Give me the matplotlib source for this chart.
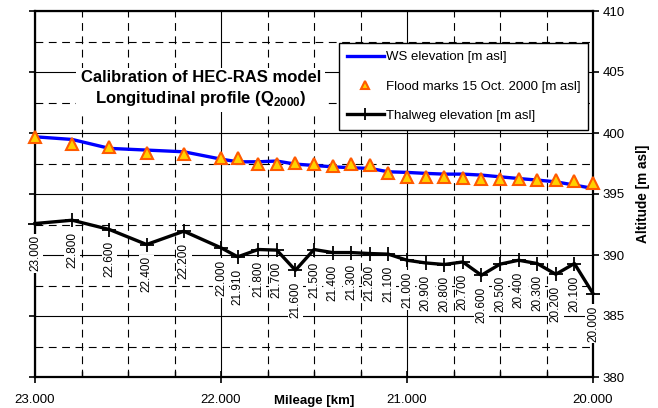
import matplotlib
matplotlib.use("Agg")
import matplotlib.pyplot as plt
from matplotlib.ticker import MultipleLocator, FixedLocator, FuncFormatter

plt.rcParams['font.family'] = ['Liberation Sans', 'DejaVu Sans']
plt.rcParams['mathtext.fontset'] = 'custom'
plt.rcParams['mathtext.rm'] = 'Liberation Sans'
plt.rcParams['mathtext.bf'] = 'Liberation Sans:bold'

stations = [23.0, 22.8, 22.6, 22.4, 22.2, 22.0, 21.91, 21.8, 21.7, 21.6, 21.5,
            21.4, 21.3, 21.2, 21.1, 21.0, 20.9, 20.8, 20.7, 20.6, 20.5, 20.4,
            20.3, 20.2, 20.1, 20.0]
station_labels = ["23.000", "22.800", "22.600", "22.400", "22.200", "22.000",
                  "21.910", "21.800", "21.700", "21.600", "21.500", "21.400",
                  "21.300", "21.200", "21.100", "21.000", "20.900", "20.800",
                  "20.700", "20.600", "20.500", "20.400", "20.300", "20.200",
                  "20.100", "20.000"]
ws_elev = [399.69, 399.47, 398.74, 398.60, 398.46, 397.86, 397.64, 397.64,
           397.70, 397.45, 397.34, 397.23, 397.15, 397.10, 396.82, 396.77,
           396.69, 396.63, 396.63, 396.55, 396.41, 396.27, 396.14, 396.00,
           395.73, 395.46]
flood_marks = [399.70, 399.09, 398.82, 398.33, 398.27, 397.92, 397.92, 397.42,
               397.42, 397.56, 397.42, 397.28, 397.42, 397.34, 396.74, 396.41,
               396.41, 396.41, 396.33, 396.27, 396.27, 396.19, 396.14, 396.14,
               396.05, 395.92]
thalweg = [392.58, 392.85, 392.09, 390.86, 391.95, 390.59, 389.85, 390.45,
           390.40, 388.75, 390.45, 390.20, 390.20, 390.12, 390.07, 389.57,
           389.35, 389.22, 389.43, 388.34, 389.25, 389.57, 389.30, 388.42,
           389.30, 386.84]
x_ticks = [23.0, 22.0, 21.0, 20.0]
y_ticks = [380, 385, 390, 395, 400, 405, 410]

fig = plt.figure(figsize=(6.58, 4.08), dpi=100)
ax = fig.add_axes([35/658, 31/408, 558/658, 366/408])

ax.set_xlim(23.0, 20.0)
ax.set_ylim(380, 410)

# grid
ax.xaxis.set_major_locator(FixedLocator(x_ticks))
ax.xaxis.set_minor_locator(MultipleLocator(0.25))
ax.yaxis.set_major_locator(FixedLocator(y_ticks))
ax.yaxis.set_minor_locator(MultipleLocator(2.5))
ax.grid(True, which='major', color='black', linewidth=0.8, linestyle='-', zorder=0)
ax.grid(True, which='minor', color='black', linewidth=0.8, linestyle=(0, (7, 5)), zorder=0)
ax.set_axisbelow(True)

ax.xaxis.set_major_formatter(FuncFormatter(lambda v, p: f"{v:.3f}"))
ax.yaxis.tick_right()
ax.yaxis.set_label_position('right')
ax.tick_params(axis='y', which='major', left=True, right=True, labelleft=False,
               labelright=True, direction='out', length=4, width=1.2,
               labelsize=9.5, pad=3)
ax.tick_params(axis='y', which='minor', left=False, right=False)
ax.tick_params(axis='x', which='major', direction='inout', length=8, width=1.2,
               labelsize=9.5, pad=8)
ax.tick_params(axis='x', which='minor', direction='in', length=4, width=1.0)

for s in ax.spines.values():
    s.set_linewidth(1.6)

ax.plot(stations, thalweg, color='black', linewidth=2.4, marker='+',
        markersize=10, markeredgewidth=1.3, zorder=4, clip_on=False,
        label='Thalweg elevation [m asl]')
l_ws, = ax.plot(stations, ws_elev, color='#0000FF', linewidth=2.4, zorder=5,
                label='WS elevation [m asl]')
l_fm, = ax.plot(stations, flood_marks, linestyle='none', marker='^', markersize=8,
                markerfacecolor='#FFD000', markeredgecolor='#FF5A00',
                markeredgewidth=1.5, zorder=6, clip_on=False,
                label='Flood marks 15 Oct. 2000 [m asl]')

for xs, yv, lab in zip(stations, thalweg, station_labels):
    ax.annotate(lab, xy=(xs, yv), xytext=(0, -8.5), textcoords='offset points',
                rotation=90, ha='center', va='top', fontsize=8.5, zorder=3,
                bbox=dict(boxstyle='square,pad=0.15', facecolor='white',
                          edgecolor='none'))

handles, labels = ax.get_legend_handles_labels()
order = [1, 2, 0]
leg = ax.legend([handles[i] for i in order], [labels[i] for i in order],
                loc='upper left', bbox_to_anchor=(0.545, 0.9126), borderaxespad=0,
                fontsize=9.5, frameon=True, fancybox=False, framealpha=1,
                edgecolor='black', handlelength=2.8, handletextpad=0.15,
                labelspacing=1.3, borderpad=0.6, numpoints=1, markerscale=0.8)
leg.get_frame().set_linewidth(1.0)
leg.set_zorder(10)

ax.text(0.297, 0.787, "Calibration of HEC-RAS model\n"
        r"Longitudinal profile (Q$_{\mathbf{2000}}$)",
        transform=ax.transAxes, ha='center', va='center', fontsize=12,
        fontweight='bold', linespacing=1.3, zorder=7,
        bbox=dict(boxstyle='square,pad=0.25', facecolor='white', edgecolor='none'))

fig.text(314/658, (408-401)/408, 'Mileage [km]', fontsize=9.5,
         fontweight='bold', ha='center', va='center')
ax.set_ylabel('Altitude [m asl]', fontsize=9.8, fontweight='bold', labelpad=8)

fig.savefig('out.png', dpi=100)
